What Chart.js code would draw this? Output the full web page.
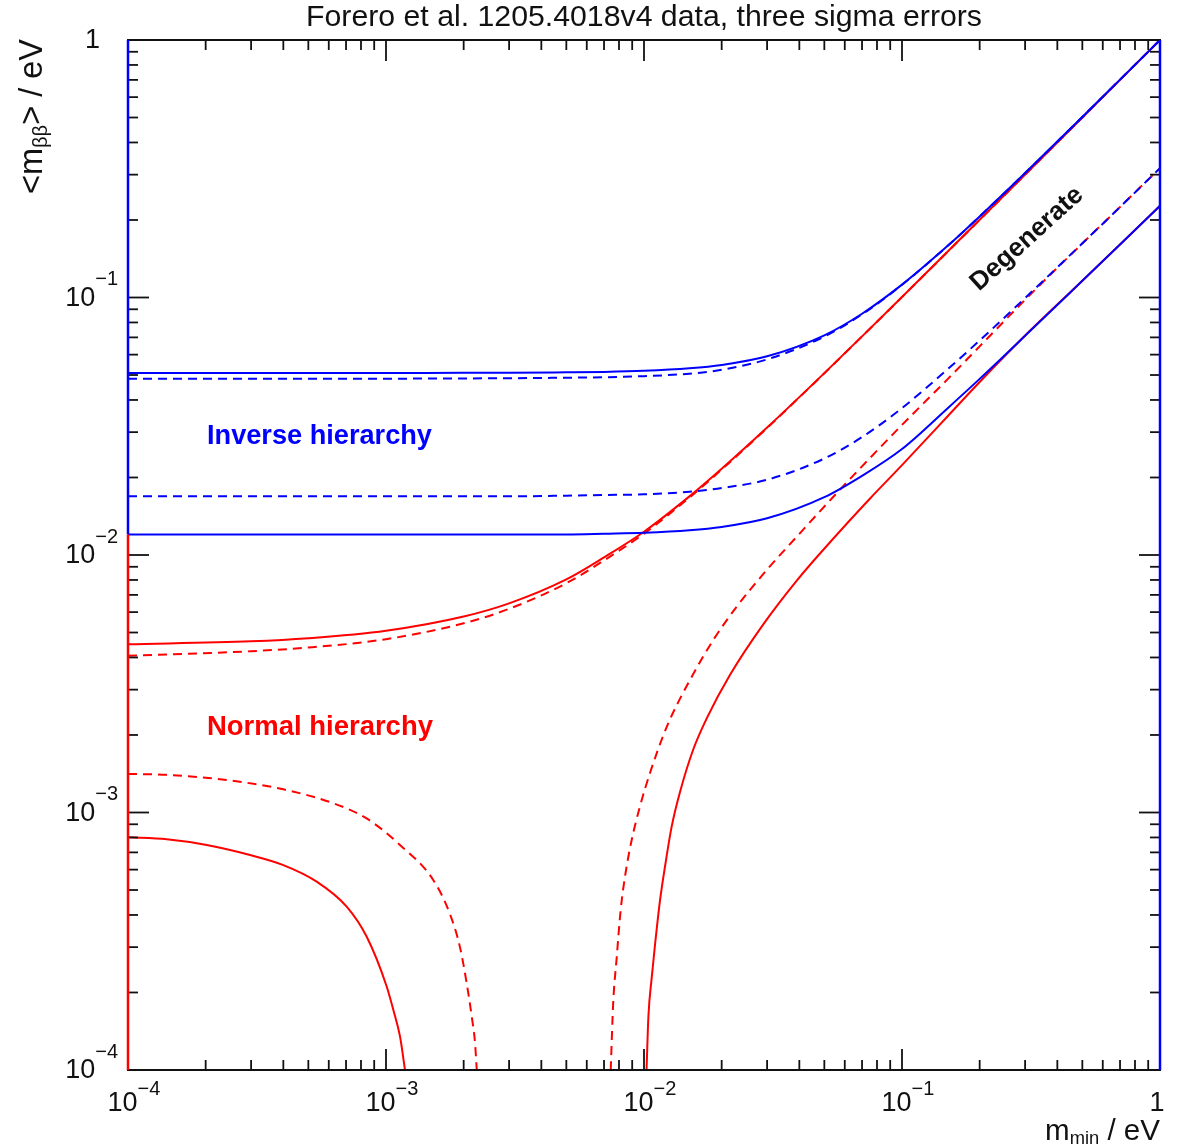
<!DOCTYPE html>
<html><head><meta charset="utf-8">
<script src="https://cdn.jsdelivr.net/npm/chart.js@4.4.1/dist/chart.umd.min.js"></script>
<style>html,body{margin:0;padding:0;background:#fff;}canvas{display:block}</style>
</head><body>
<canvas id="c" width="1179" height="1148"></canvas>
<script>
// ---------- text ----------
const titleText = "Forero et al. 1205.4018v4 data, three sigma errors";
const xTitleMain = "m", xTitleSub = "min", xTitleRest = " / eV";
const yTitlePre = "<m", yTitleSub = "\u03b2\u03b2", yTitleRest = "> / eV";
const labelIH = "Inverse hierarchy";
const labelNH = "Normal hierarchy";
const labelDeg = "Degenerate";

// ---------- axes ----------
const axisMin = 1e-4, axisMax = 1;
const decadeExps = [-4, -3, -2, -1];           // labelled as 10^exp
const minorMults = [2, 3, 4, 5, 6, 7, 8, 9];

// ---------- data (m_min in eV, <m> in eV) ----------
const xGrid = [1e-4, 2e-4, 3e-4, 5e-4, 1e-3, 2e-3, 3e-3, 5e-3, 7e-3, 0.01, 0.015, 0.02, 0.03, 0.05, 0.07, 0.1, 0.15, 0.2, 0.3, 0.5, 0.7, 1];

// Inverse hierarchy (blue)
const ihUpperSolid  = [0.0509, 0.0509, 0.0509, 0.0509, 0.0509, 0.0510, 0.0510, 0.0512, 0.0514, 0.0519, 0.0531, 0.0547, 0.0591, 0.0713, 0.0865, 0.1122, 0.1584, 0.2064, 0.3043, 0.5026, 0.7018, 1.0];
const ihUpperDashed = [0.0484, 0.0484, 0.0484, 0.0484, 0.0484, 0.0485, 0.0486, 0.0488, 0.0490, 0.0495, 0.0506, 0.0524, 0.0575, 0.0705, 0.0860, 0.1120, 0.1584, 0.2064, 0.3043, 0.5026, 0.7018, 1.0];
const ihLowerDashed = [0.0169, 0.0169, 0.0169, 0.0169, 0.0169, 0.0169, 0.0169, 0.0170, 0.0171, 0.0172, 0.0176, 0.0182, 0.0196, 0.0237, 0.0287, 0.0372, 0.0526, 0.0681, 0.0995, 0.1623, 0.2246, 0.318];
const ihLowerSolid  = [0.0120, 0.0120, 0.0120, 0.0120, 0.0120, 0.0120, 0.0120, 0.01202, 0.0121, 0.0122, 0.01247, 0.01285, 0.01388, 0.01677, 0.0203, 0.0258, 0.0371, 0.0483, 0.0710, 0.1161, 0.1607, 0.227];

// Normal hierarchy (red)
const nhUpperX      = [1e-4, 3e-4, 5e-4, 1e-3, 2e-3, 3e-3, 5e-3, 7e-3, 0.01, 0.015, 0.02, 0.03, 0.05, 0.07, 0.1, 0.2, 0.5, 1];
const nhUpperSolid  = [0.00450, 0.00462, 0.00475, 0.00508, 0.00577, 0.00649, 0.00804, 0.00979, 0.01231, 0.01689, 0.02162, 0.03125, 0.05086, 0.07065, 0.1005, 0.2003, 0.5001, 1.0];
const nhUpperDashed = [0.00406, 0.00423, 0.00437, 0.00471, 0.00543, 0.00618, 0.00777, 0.00953, 0.0121, 0.01671, 0.02147, 0.03113, 0.05078, 0.07059, 0.1004, 0.2002, 0.5, 1.0];

const nhLowLeftSolidX  = [1e-4, 1.413e-4, 2.018e-4, 2.971e-4, 4.0e-4, 5.387e-4, 7.04e-4, 8.42e-4, 1.006e-3, 1.068e-3, 1.133e-3, 1.185e-3];
const nhLowLeftSolidY  = [8.01e-4, 7.87e-4, 7.48e-4, 6.84e-4, 6.25e-4, 5.39e-4, 4.31e-4, 3.29e-4, 2.11e-4, 1.71e-4, 1.35e-4, 1.0e-4];
const nhLowLeftDashX   = [1e-4, 1.41e-4, 2.41e-4, 4.0e-4, 6.25e-4, 8.41e-4, 1.133e-3, 1.524e-3, 1.77e-3, 1.935e-3, 2.055e-3, 2.15e-3, 2.214e-3, 2.248e-3];
const nhLowLeftDashY   = [1.412e-3, 1.40e-3, 1.337e-3, 1.23e-3, 1.086e-3, 9.48e-4, 7.48e-4, 5.47e-4, 4.03e-4, 3.00e-4, 2.17e-4, 1.61e-4, 1.27e-4, 1.0e-4];

const nhLowRightDashX  = [7.43e-3, 7.6e-3, 7.83e-3, 8.12e-3, 8.44e-3, 8.96e-3, 9.64e-3, 0.01054, 0.01225, 0.01507, 0.01857, 0.02287, 0.02989, 0.0391, 0.0542, 0.07, 0.1, 0.15, 0.2, 0.3, 0.5, 0.7, 1];
const nhLowRightDashY  = [1.0e-4, 1.84e-4, 2.70e-4, 4.18e-4, 5.64e-4, 7.82e-4, 1.054e-3, 1.42e-3, 2.15e-3, 3.27e-3, 4.68e-3, 6.30e-3, 8.74e-3, 1.178e-2, 1.684e-2, 0.0221, 0.0320, 0.0481, 0.0646, 0.0980, 0.1621, 0.2246, 0.318];
const nhLowRightSolidX = [0.01023, 0.0104, 0.01072, 0.01104, 0.01154, 0.01206, 0.0128, 0.01379, 0.01553, 0.0175, 0.02153, 0.02899, 0.0391, 0.0542, 0.0752, 0.1, 0.15, 0.2, 0.3, 0.5, 0.7, 1];
const nhLowRightSolidY = [1.0e-4, 1.61e-4, 2.30e-4, 3.085e-4, 4.57e-4, 6.16e-4, 8.81e-4, 1.201e-3, 1.76e-3, 2.32e-3, 3.42e-3, 5.38e-3, 7.96e-3, 0.01159, 0.01658, 0.02234, 0.0345, 0.0470, 0.0712, 0.1161, 0.1607, 0.227];

// ---------- build datasets ----------
const BLUE = '#0000ff', RED = '#ff0000';
const DASH = [9, 6];
function pts(xs, ys){ return xs.map((x, i) => ({x: x, y: ys[i]})); }
function ds(xs, ys, color, dashed, order){
  return { data: pts(xs, ys), borderColor: color, borderWidth: 2, borderDash: dashed ? DASH : [],
           pointRadius: 0, fill: false, cubicInterpolationMode: 'monotone', order: order };
}
const datasets = [
  ds(xGrid, ihUpperSolid, BLUE, false, 1),
  ds(xGrid, ihUpperDashed, BLUE, true, 1),
  ds(xGrid, ihLowerDashed, BLUE, true, 1),
  ds(xGrid, ihLowerSolid, BLUE, false, 1),
  ds(nhUpperX, nhUpperSolid, RED, false, 2),
  ds(nhUpperX, nhUpperDashed, RED, true, 2),
  ds(nhLowLeftSolidX, nhLowLeftSolidY, RED, false, 2),
  ds(nhLowLeftDashX, nhLowLeftDashY, RED, true, 2),
  ds(nhLowRightDashX, nhLowRightDashY, RED, true, 2),
  ds(nhLowRightSolidX, nhLowRightSolidY, RED, false, 2)
];

// ---------- drawing helpers ----------
const FAM = '"Liberation Sans", Arial, sans-serif';
function fitSize(ctx, text, weight, target){
  ctx.font = weight + ' 100px ' + FAM;
  return 100 * target / ctx.measureText(text).width;
}
function w100(ctx, text){ ctx.font = '100px ' + FAM; return ctx.measureText(text).width; }

const decor = {
  id: 'decor',
  afterDatasetsDraw(chart){
    const ctx = chart.ctx;
    const {left: L, right: R, top: T, bottom: B} = chart.chartArea;
    const xs = chart.scales.x, ys = chart.scales.y;
    ctx.save();
    ctx.lineCap = 'butt';
    function seg(x1, y1, x2, y2, c, w){
      ctx.strokeStyle = c; ctx.lineWidth = w; ctx.beginPath(); ctx.moveTo(x1, y1); ctx.lineTo(x2, y2); ctx.stroke();
    }
    // ticks (inward on all four sides)
    const tickVals = [];
    decadeExps.forEach(e => {
      const d = Math.pow(10, e);
      if (e > decadeExps[0]) tickVals.push({v: d, major: true});
      minorMults.forEach(m => tickVals.push({v: m * d, major: false}));
    });
    tickVals.forEach(t => {
      const len = t.major ? 21 : 10;
      const px = xs.getPixelForValue(t.v);
      const py = ys.getPixelForValue(t.v);
      seg(px, B, px, B - len, '#111', 1.8);
      seg(px, T, px, T + len, '#111', 1.8);
      seg(L, py, L + len, py, '#111', 1.8);
      seg(R, py, R - len, py, '#111', 1.8);
    });
    // frame
    seg(L - 1, T, R + 1, T, '#111', 2);
    seg(L - 1, B, R + 1, B, '#111', 2);
    const ySplit = ys.getPixelForValue(ihLowerSolid[0]);
    seg(L, T, L, ySplit, BLUE, 2.5);
    seg(L, ySplit, L, B, RED, 2.5);
    seg(R, T, R, B, BLUE, 2.5);

    // tick labels
    ctx.fillStyle = '#111';
    ctx.textBaseline = 'middle';
    ctx.textAlign = 'left';
    const baseF = '27px ' + FAM, expF = '20px ' + FAM;
    function powW(exp){
      ctx.font = baseF; const wb = ctx.measureText('10').width;
      ctx.font = expF; const we = ctx.measureText('\u2212' + Math.abs(exp)).width;
      return [wb, we];
    }
    function drawPow(exp, sx, cy, rise){
      const [wb] = powW(exp);
      ctx.font = baseF; ctx.fillText('10', sx, cy);
      ctx.font = expF; ctx.fillText('\u2212' + Math.abs(exp), sx + wb, cy - rise);
    }
    decadeExps.forEach(e => {
      const v = Math.pow(10, e);
      const [wb, we] = powW(e);
      const px = xs.getPixelForValue(v);
      drawPow(e, px + 6 - (wb + we) / 2, B + 34, 15);
      const py = ys.getPixelForValue(v);
      drawPow(e, L - 10 - (wb + we), py + 1, 19);
    });
    ctx.font = baseF;
    ctx.textAlign = 'center';
    ctx.fillText('1', xs.getPixelForValue(axisMax) - 3, B + 34);
    ctx.textAlign = 'right';
    ctx.fillText('1', L - 28, ys.getPixelForValue(axisMax) + 1);

    // title
    ctx.textAlign = 'center';
    ctx.font = fitSize(ctx, titleText, 'normal', 676).toFixed(2) + 'px ' + FAM;
    ctx.fillText(titleText, (L + R) / 2, 18);

    // x axis title (right aligned to plot right edge), fitted to 115 px
    const SUBR = 0.62;
    ctx.textAlign = 'left';
    let tot = w100(ctx, xTitleMain) + SUBR * w100(ctx, xTitleSub) + w100(ctx, xTitleRest);
    let s = 100 * 115 / tot;
    let mainF = s.toFixed(2) + 'px ' + FAM, subF = (s * SUBR).toFixed(2) + 'px ' + FAM;
    ctx.font = mainF; const w1 = ctx.measureText(xTitleMain).width, w3 = ctx.measureText(xTitleRest).width;
    ctx.font = subF; const w2 = ctx.measureText(xTitleSub).width;
    let sx = R - (w1 + w2 + w3);
    ctx.font = mainF; ctx.fillText(xTitleMain, sx, 1132);
    ctx.font = subF; ctx.fillText(xTitleSub, sx + w1, 1139);
    ctx.font = mainF; ctx.fillText(xTitleRest, sx + w1 + w2, 1132);

    // y axis title (rotated), fitted to 155 px, ending near top
    tot = w100(ctx, yTitlePre) + SUBR * w100(ctx, yTitleSub) + w100(ctx, yTitleRest);
    s = 100 * 155 / tot;
    mainF = s.toFixed(2) + 'px ' + FAM; subF = (s * SUBR).toFixed(2) + 'px ' + FAM;
    ctx.save();
    ctx.translate(33, 194);
    ctx.rotate(-Math.PI / 2);
    ctx.font = mainF; const v1 = ctx.measureText(yTitlePre).width;
    ctx.font = subF; const v2 = ctx.measureText(yTitleSub).width;
    ctx.font = mainF; ctx.fillText(yTitlePre, 0, 0);
    ctx.font = subF; ctx.fillText(yTitleSub, v1, 8);
    ctx.font = mainF; ctx.fillText(yTitleRest, v1 + v2, 0);
    ctx.restore();

    // annotations
    ctx.textAlign = 'left';
    ctx.fillStyle = BLUE;
    ctx.font = 'bold ' + fitSize(ctx, labelIH, 'bold', 225).toFixed(2) + 'px ' + FAM;
    ctx.fillText(labelIH, 207, 437);
    ctx.fillStyle = RED;
    ctx.font = 'bold ' + fitSize(ctx, labelNH, 'bold', 226).toFixed(2) + 'px ' + FAM;
    ctx.fillText(labelNH, 207, 727);
    ctx.save();
    ctx.fillStyle = '#111';
    ctx.translate(1027, 239);
    ctx.rotate(-42 * Math.PI / 180);
    ctx.textAlign = 'center';
    ctx.font = 'bold ' + fitSize(ctx, labelDeg, 'bold', 142).toFixed(2) + 'px ' + FAM;
    ctx.fillText(labelDeg, 0, 0);
    ctx.restore();

    ctx.restore();
  }
};

new Chart(document.getElementById('c'), {
  type: 'line',
  data: { datasets: datasets },
  options: {
    responsive: false,
    animation: false,
    devicePixelRatio: 1,
    layout: { padding: { left: 128, top: 40, right: 19, bottom: 78 } },
    plugins: { legend: { display: false }, tooltip: { enabled: false }, title: { display: false } },
    scales: {
      x: { type: 'logarithmic', min: axisMin, max: axisMax, display: false },
      y: { type: 'logarithmic', min: axisMin, max: axisMax, display: false }
    }
  },
  plugins: [decor]
});
</script>
</body></html>
